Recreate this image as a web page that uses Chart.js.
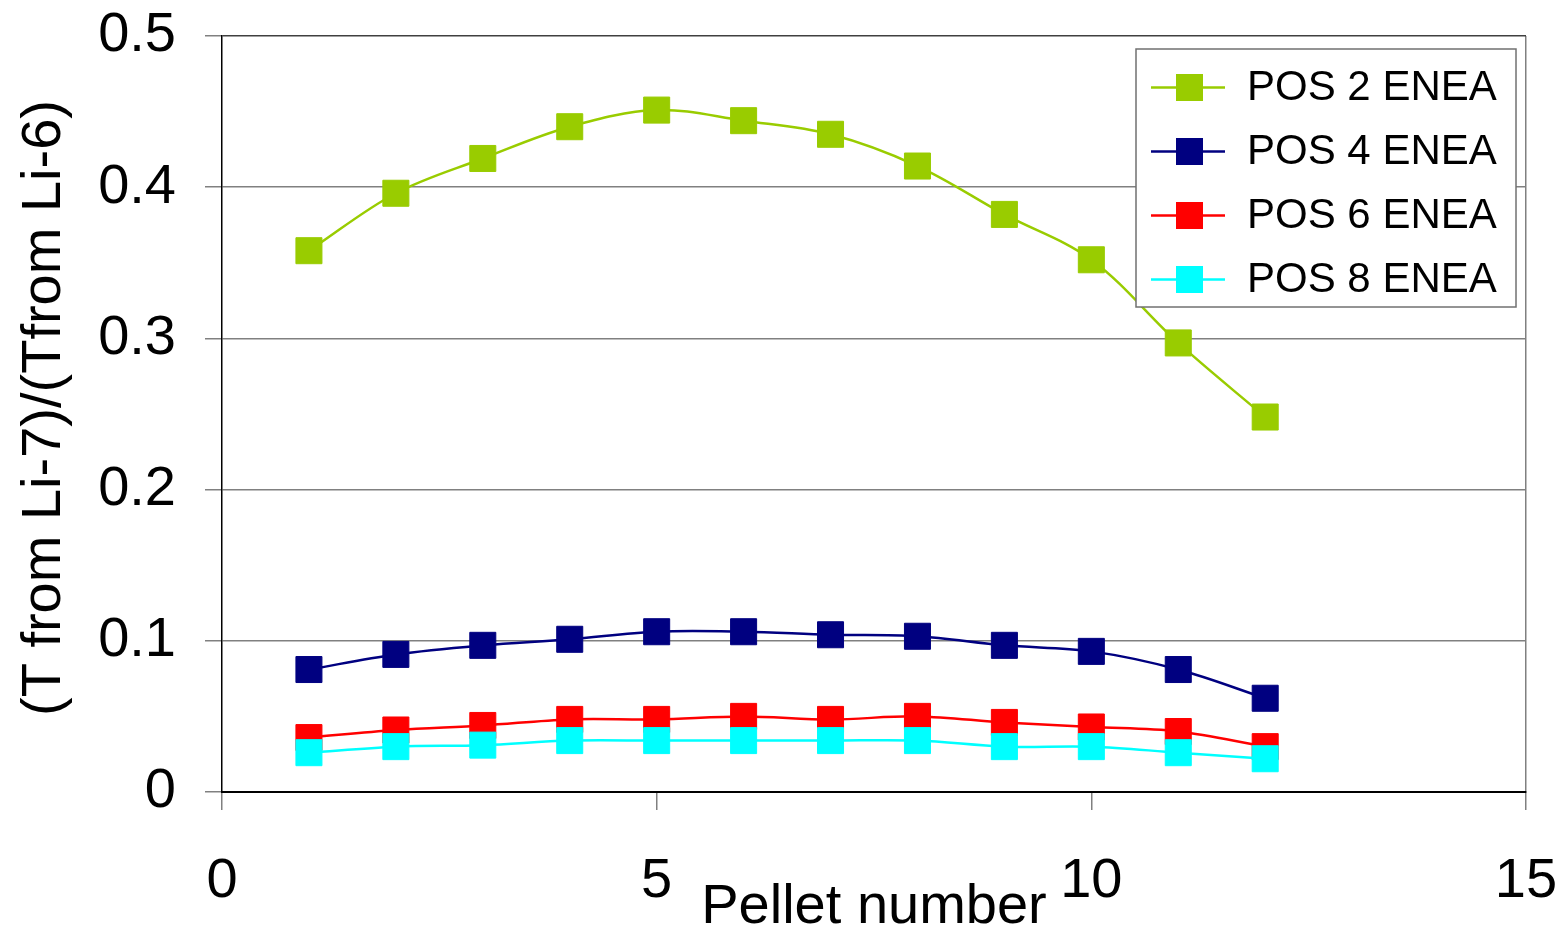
<!DOCTYPE html>
<html>
<head>
<meta charset="utf-8">
<script src="https://cdn.jsdelivr.net/npm/chart.js@4/dist/chart.umd.min.js"></script>
<style>
  html, body { margin: 0; padding: 0; background: #fff; }
  #wrap { width: 1560px; height: 928px; }
</style>
</head>
<body>
<div id="wrap"><canvas id="myChart" width="1560" height="928"></canvas></div>
<script>
"use strict";
// values
const pellets = [1, 2, 3, 4, 5, 6, 7, 8, 9, 10, 11, 12];
const pos2 = [0.358, 0.396, 0.419, 0.440, 0.451, 0.444, 0.435, 0.414, 0.382, 0.352, 0.297, 0.248];
const pos4 = [0.081, 0.091, 0.097, 0.101, 0.106, 0.106, 0.104, 0.103, 0.097, 0.093, 0.081, 0.062];
const pos6 = [0.036, 0.041, 0.044, 0.048, 0.048, 0.050, 0.048, 0.050, 0.046, 0.043, 0.040, 0.030];
const pos8 = [0.026, 0.030, 0.031, 0.034, 0.034, 0.034, 0.034, 0.034, 0.030, 0.030, 0.026, 0.022];
const seriesNames = ["POS 2 ENEA", "POS 4 ENEA", "POS 6 ENEA", "POS 8 ENEA"];
const xTicks = [0, 5, 10, 15];
const yTicks = [0, 0.1, 0.2, 0.3, 0.4, 0.5];
const xTitle = "Pellet number";
const yTitle = "(T from Li-7)/(Tfrom Li-6)";

const FONT = "'Liberation Sans', Arial, sans-serif";
const colors = ["#99cc00", "#000080", "#ff0000", "#00ffff"];

function toPoints(vals) {
  var pts = [];
  for (let i = 0; i < vals.length; i++) {
    pts.push({ x: pellets[i], y: vals[i] });
  }
  return pts;
}

function makeSet(i, vals) {
  return {
    label: seriesNames[i],
    data: toPoints(vals),
    borderColor: colors[i],
    backgroundColor: colors[i],
    pointBackgroundColor: colors[i],
    pointBorderColor: colors[i],
    pointBorderWidth: 1,
    pointStyle: 'rect',
    pointRadius: 18.4,
    pointHoverRadius: 18.4,
    borderWidth: 2.5,
    tension: 0.35,
    order: 3 - i   // later series drawn on top, like the original
  };
}

// axis titles + boxed legend inside the plot
const extras = {
  id: 'extras',
  afterDraw(chart) {
    const ctx = chart.ctx;
    const area = chart.chartArea;
    ctx.save();

    // x title
    ctx.fillStyle = '#000';
    ctx.font = "56px " + FONT;
    ctx.textAlign = 'center';
    ctx.textBaseline = 'alphabetic';
    ctx.fillText(xTitle, (area.left + area.right) / 2, 923);

    // y title, clipped at the top like the original
    ctx.save();
    ctx.beginPath();
    ctx.rect(0, 101, 120, 827);
    ctx.clip();
    ctx.translate(60, 408);
    ctx.rotate(-Math.PI / 2);
    ctx.fillText(yTitle, 0, 0);
    ctx.restore();

    // legend
    const lx = 1136, ly = 49, lw = 380, lh = 258;
    ctx.fillStyle = '#fff';
    ctx.fillRect(lx, ly, lw, lh);
    ctx.strokeStyle = '#707070';
    ctx.lineWidth = 1.5;
    ctx.strokeRect(lx, ly, lw, lh);
    ctx.font = "42px " + FONT;
    ctx.textAlign = 'left';
    chart.data.datasets.forEach(function(ds, i) {
      const cy = 87.5 + i * 64;
      ctx.strokeStyle = ds.borderColor;
      ctx.lineWidth = 2.5;
      ctx.beginPath();
      ctx.moveTo(1151, cy);
      ctx.lineTo(1225, cy);
      ctx.stroke();
      ctx.fillStyle = ds.backgroundColor;
      ctx.fillRect(1176, cy - 13.5, 27, 27);
      ctx.fillStyle = '#000';
      ctx.fillText(ds.label, 1247, cy + 12);
    });
    ctx.restore();
  }
};

function createChart() {
  let myChart = document.getElementById("myChart").getContext("2d");
  var pelletChart = new Chart(myChart, {
    type: 'line',
    data: {
      datasets: [makeSet(0, pos2), makeSet(1, pos4), makeSet(2, pos6), makeSet(3, pos8)]
    },
    options: {
      responsive: false,
      animation: false,
      devicePixelRatio: 1,
      layout: { padding: { top: 36, right: 34, left: 0, bottom: 0 } },
      plugins: {
        legend: { display: false },
        tooltip: { enabled: false },
        title: { display: false }
      },
      scales: {
        x: {
          type: 'linear',
          min: xTicks[0],
          max: xTicks[xTicks.length - 1],
          afterBuildTicks: function(s) { s.ticks = xTicks.map(function(v) { return { value: v }; }); },
          afterFit: function(s) {
            s.height = 136;
            s.paddingLeft = 0;
            s.paddingRight = 0;
          },
          ticks: {
            color: '#000',
            font: { family: FONT, size: 56 },
            padding: 38,
            maxRotation: 0,
            callback: function(v) { return String(v); }
          },
          grid: {
            color: function(c) { return c.tick && c.tick.value === 15 ? '#808080' : 'rgba(0,0,0,0)'; },
            tickColor: '#808080',
            tickLength: 18,
            lineWidth: 1.5
          },
          border: { color: '#000', width: 2 }
        },
        y: {
          min: yTicks[0],
          max: yTicks[yTicks.length - 1],
          afterBuildTicks: function(s) { s.ticks = yTicks.map(function(v) { return { value: v }; }); },
          afterFit: function(s) {
            s.width = 222;
            s.paddingTop = 0;
            s.paddingBottom = 0;
          },
          ticks: {
            color: '#000',
            font: { family: FONT, size: 56 },
            padding: 29,
            callback: function(v) { return String(Math.round(v * 10) / 10); }
          },
          grid: {
            color: function(c) { return c.tick && c.tick.value === 0.5 ? '#404040' : '#808080'; },
            tickColor: '#808080',
            tickLength: 17,
            lineWidth: 1.5
          },
          border: { color: '#000', width: 1.5 }
        }
      }
    },
    plugins: [extras]
  });
  return pelletChart;
}

createChart();
</script>
</body>
</html>
